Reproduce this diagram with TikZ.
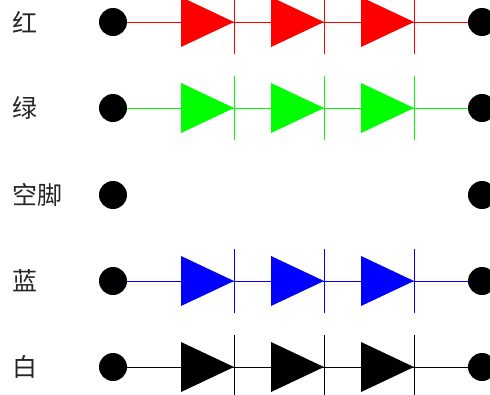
\documentclass[tikz,border=0pt]{standalone}
\usepackage{fontspec}
\newfontfamily\cjk{Noto Sans CJK SC}
\begin{document}
\begin{tikzpicture}[x=1pt,y=-1pt,
  pin/.style={circle,fill=black,inner sep=0pt,minimum size=28pt},
  lbl/.style={anchor=west,inner sep=0pt,font=\cjk\fontsize{25}{25}\selectfont,text=black!85},
  wire/.style={line width=0.7pt}]
\useasboundingbox (0,0) rectangle (490,394);
\clip (0,0) rectangle (490,394);
\foreach \name/\lab/\col/\y/\has in {r/红/red/22/1, g/绿/green/108/1, n/空脚/black/195/0, b/蓝/blue/281/1, w/白/black/367/1}{
  \node[lbl] (l\name) at (12,\y) {\lab};
  \node[pin] (a\name) at (113,\y) {};
  \node[pin] (z\name) at (482,\y) {};
  \ifnum\has=1
    \draw[wire,\col] (a\name.east) -- (z\name.west);
    \foreach \i/\x in {1/181,2/271,3/361}{
      \coordinate (d\name\i) at (\x,\y);
      \fill[\col] (d\name\i) ++(0,-25) -- ++(53,25) -- ++(-53,25) -- cycle;
      \coordinate (k\name\i) at (\x+53,\y);
      \draw[wire,\col] ([yshift=-32pt]k\name\i) -- ([yshift=32pt]k\name\i);
    }
  \fi
}
\end{tikzpicture}
\end{document}
